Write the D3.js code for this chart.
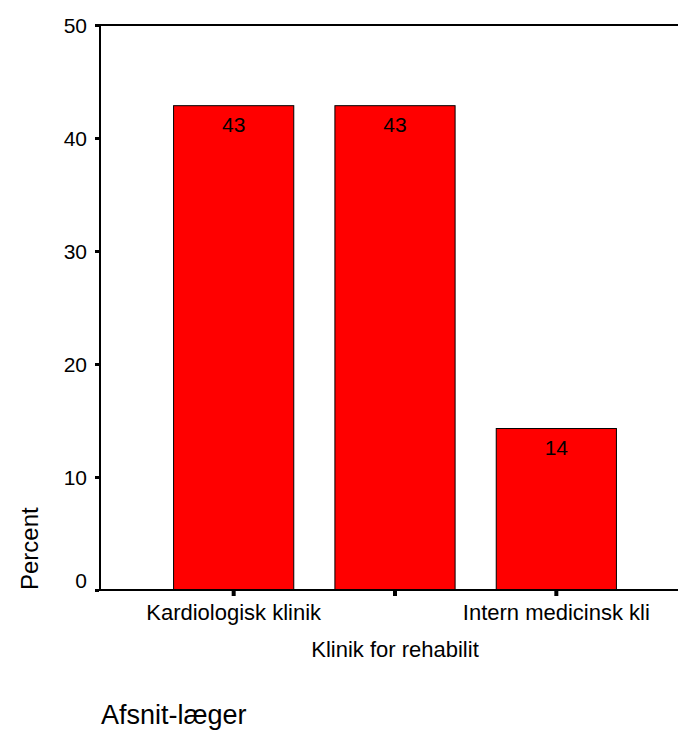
<!DOCTYPE html>
<html>
<head>
<meta charset="utf-8">
<script src="https://cdn.jsdelivr.net/npm/d3@7"></script>
<style>
  html, body { margin: 0; padding: 0; background: #fff; }
  text { font-family: "Liberation Sans", Arial, sans-serif; fill: #000; }
</style>
</head>
<body>
<script>
// ---- data ----
const categories = ["Kardiologisk klinik", "Klinik 2", "Intern medicinsk kli"];
const tickLabels = ["Kardiologisk klinik", "", "Intern medicinsk kli"];
const percents = [42.86, 42.86, 14.29];
const valueLabels = ["43", "43", "14"];
const yTicks = [0, 10, 20, 30, 40, 50];
const xTitle = "Klinik for rehabilit";
const yTitle = "Percent";
const footTitle = "Afsnit-læger";

const W = 678, H = 735;
const svg = d3.select("body").append("svg").attr("width", W).attr("height", H);

const x0 = 100, yTop = 25, yBot = 590;
const y = d3.scaleLinear().domain([0, 50]).range([yBot, yTop]);
const x = d3.scaleBand().domain(categories).range([153, 637])
  .paddingInner(0.255).paddingOuter(0.1275);

// bars
svg.selectAll("rect.bar").data(categories).enter().append("rect")
  .attr("class", "bar")
  .attr("x", d => x(d))
  .attr("width", x.bandwidth())
  .attr("y", (d, i) => y(percents[i]))
  .attr("height", (d, i) => y(0) - y(percents[i]))
  .attr("fill", "#ff0000")
  .attr("stroke", "#000")
  .attr("stroke-width", 1);

// value labels
svg.selectAll("text.val").data(categories).enter().append("text")
  .attr("class", "val")
  .attr("x", d => x(d) + x.bandwidth() / 2)
  .attr("y", (d, i) => y(percents[i]) + 26)
  .attr("text-anchor", "middle")
  .attr("font-size", 21)
  .text((d, i) => valueLabels[i]);

// frame lines (left axis, top line, bottom axis)
svg.append("line").attr("x1", x0).attr("x2", x0).attr("y1", yTop).attr("y2", yBot)
  .attr("stroke", "#000").attr("stroke-width", 2);
svg.append("line").attr("x1", x0 - 1).attr("x2", W).attr("y1", yTop).attr("y2", yTop)
  .attr("stroke", "#000").attr("stroke-width", 2);
svg.append("line").attr("x1", x0 - 1).attr("x2", W).attr("y1", yBot).attr("y2", yBot)
  .attr("stroke", "#000").attr("stroke-width", 2);

// y axis ticks and labels
const yAxis = d3.axisLeft(y).tickValues(yTicks).tickSize(4).tickPadding(8);
const gy = svg.append("g").attr("transform", `translate(${x0 - 1},0)`).call(yAxis);
gy.select(".domain").remove();
gy.selectAll(".tick line").attr("stroke", "#000").attr("stroke-width", 3);
gy.selectAll(".tick text").attr("font-size", 21)
  .attr("font-family", '"Liberation Sans", Arial, sans-serif')
  .attr("fill", "#000")
  .attr("dy", d => d === 0 ? "-0.1em" : "0.35em");

// x axis ticks and labels
const xAxis = d3.axisBottom(x).tickSize(5).tickPadding(8)
  .tickFormat((d, i) => tickLabels[i]);
const gx = svg.append("g").attr("transform", `translate(0,${yBot + 1})`).call(xAxis);
gx.select(".domain").remove();
gx.selectAll(".tick line").attr("stroke", "#000").attr("stroke-width", 4);
gx.selectAll(".tick text").attr("font-size", 22)
  .attr("font-family", '"Liberation Sans", Arial, sans-serif')
  .attr("fill", "#000");

// axis titles
svg.append("text").attr("x", 395).attr("y", 657).attr("text-anchor", "middle")
  .attr("font-size", 22).text(xTitle);
svg.append("text").attr("transform", "translate(38,590) rotate(-90)")
  .attr("text-anchor", "start").attr("font-size", 24).text(yTitle);
svg.append("text").attr("x", 101).attr("y", 724).attr("text-anchor", "start")
  .attr("font-size", 27).text(footTitle);
</script>
</body>
</html>
